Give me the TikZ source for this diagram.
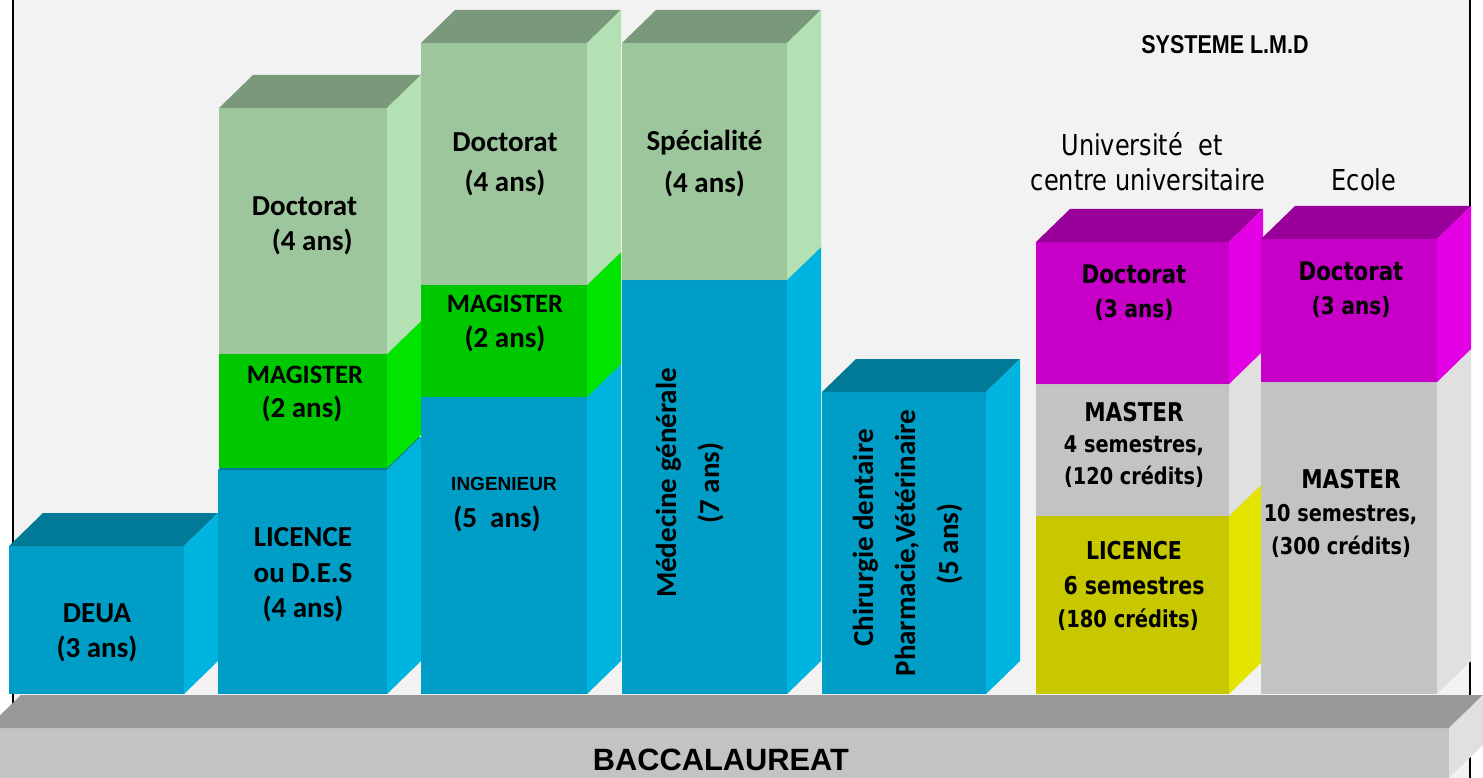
\documentclass[tikz,border=0pt]{standalone}
\usepackage{fontspec}
\usepackage{graphicx}
\setmainfont{Carlito}
\newfontfamily\vfont{DejaVu Sans}
\newfontfamily\afont{Liberation Sans}
\definecolor{bgc}{RGB}{242,242,242}
\definecolor{blueF}{RGB}{0,157,198}
\definecolor{blueS}{RGB}{0,180,224}
\definecolor{blueT}{RGB}{0,122,150}
\definecolor{grnF}{RGB}{0,200,0}
\definecolor{grnS}{RGB}{0,228,0}
\definecolor{grnT}{RGB}{0,150,0}
\definecolor{lgF}{RGB}{157,198,157}
\definecolor{lgS}{RGB}{180,225,180}
\definecolor{lgT}{RGB}{122,152,122}
\definecolor{magF}{RGB}{198,0,198}
\definecolor{magS}{RGB}{228,0,228}
\definecolor{magT}{RGB}{153,0,153}
\definecolor{gryF}{RGB}{195,195,195}
\definecolor{gryS}{RGB}{224,224,224}
\definecolor{gryT}{RGB}{153,153,153}
\definecolor{yelF}{RGB}{200,200,0}
\definecolor{yelS}{RGB}{228,228,0}
\definecolor{yelT}{RGB}{150,150,0}
\newcommand\cuboid[7]{%
  \fill[#5] (#1,#2) rectangle (#3,#4);
  \fill[#6] (#1,#2) -- (#1+34,#2-33) -- (#3+34,#2-33) -- (#3,#2) -- cycle;
  \fill[#7] (#3,#2) -- (#3+34,#2-33) -- (#3+34,#4-33) -- (#3,#4) -- cycle;
}
\newcommand\vst[1]{\scalebox{1}[1.2]{#1}}
\tikzset{
  cal/.style={font=\bfseries\fontsize{29}{35}\selectfont, inner sep=0pt, anchor=base},
  calm/.style={font=\bfseries\fontsize{26.5}{32}\selectfont, inner sep=0pt, anchor=base},
  calsm/.style={font=\afont\bfseries\fontsize{19}{23}\selectfont, inner sep=0pt, anchor=base},
  vb/.style={font=\vfont\bfseries\fontsize{#1}{#1}\selectfont, inner sep=0pt, anchor=base},
  vr/.style={font=\vfont\fontsize{#1}{#1}\selectfont, inner sep=0pt, anchor=base},
  ab/.style={font=\afont\bfseries\fontsize{#1}{#1}\selectfont, inner sep=0pt, anchor=base},
}
\begin{document}
\begin{tikzpicture}[x=1pt,y=-1pt]
\useasboundingbox (0,0) rectangle (1483,778);
\fill[white] (0,0) rectangle (1483,778);
\fill[bgc] (14,0) rectangle (1469,778);
\fill[black] (12,0) rectangle (14,705);
\fill[black] (1469.3,0) rectangle (1471.3,778);
% column 1
\cuboid{9}{546}{184}{694}{blueF}{blueT}{blueS}
% column 2
\cuboid{218}{470}{387}{694}{blueF}{blueT}{blueS}
\cuboid{219}{354}{387}{468}{grnF}{grnT}{grnS}
\cuboid{219}{108}{387}{354}{lgF}{lgT}{lgS}
% column 3
\cuboid{421}{397}{587}{694}{blueF}{blueT}{blueS}
\cuboid{421}{285}{587}{397}{grnF}{grnT}{grnS}
\cuboid{421}{43}{587}{285}{lgF}{lgT}{lgS}
% column 4
\cuboid{622}{280}{787}{694}{blueF}{blueT}{blueS}
\cuboid{622}{43}{787}{280}{lgF}{lgT}{lgS}
% column 5
\cuboid{822}{392}{986}{694}{blueF}{blueT}{blueS}
% column 6
\cuboid{1036}{516}{1229}{694}{yelF}{yelT}{yelS}
\cuboid{1036}{384}{1229}{516}{gryF}{gryT}{gryS}
\cuboid{1036}{242}{1229}{384}{magF}{magT}{magS}
% column 7
\cuboid{1261}{382}{1437}{694}{gryF}{gryT}{gryS}
\cuboid{1261}{239}{1437}{382}{magF}{magT}{magS}
% base slab
\fill[gryF] (-20,728) rectangle (1449,790);
\fill[gryT] (-13,728) -- (21,695) -- (1483,695) -- (1449,728) -- cycle;
\fill[gryS] (1449,728) -- (1483,695) -- (1483,745) -- (1449,778) -- cycle;
% texts
\node[cal] (deua1) at (97,622) {DEUA};
\node[cal] (deua2) at (97,657) {(3 ans)};
\node[cal] (lic1) at (303,546) {LICENCE};
\node[cal] (lic2) at (303,582) {ou D.E.S};
\node[cal] (lic3) at (303,617) {(4 ans)};
\node[calm] (mag1) at (305,383) {MAGISTER};
\node[cal] (mag2) at (302,417) {(2 ans)};
\node[cal] (doc1) at (304.5,215) {Doctorat};
\node[cal] (doc2) at (309,251) {\ (4 ans)};
\node[cal] (docb1) at (505,152) {Doctorat};
\node[cal] (docb2) at (505,192) {(4 ans)};
\node[calm] (magb1) at (505,312) {MAGISTER};
\node[cal] (magb2) at (505,347) {(2 ans)};
\node[calsm] (ing1) at (504,490) {INGENIEUR};
\node[cal] (ing2) at (497,527) {(5~~ans)};
\node[cal] (spe1) at (704.5,151) {Spécialité};
\node[cal] (spe2) at (704.5,193) {(4 ans)};
\node[cal,rotate=90] (med1) at (676,483) {Médecine générale};
\node[cal,rotate=90] (med2) at (719,483) {(7 ans)};
\node[cal,rotate=90] (chi1) at (873,538) {Chirurgie dentaire};
\node[cal,rotate=90] (chi2) at (915,543) {Pharmacie,Vétérinaire};
\node[cal,rotate=90] (chi3) at (958,544) {(5 ans)};
\node[ab=21.5] (lmd) at (1225,54) {\vst{SYSTEME L.M.D}};
\node[vr=24] (univ1) at (1142,156) {\vst{Université~~et}};
\node[vr=24] (univ2) at (1148,191) {\vst{centre universitaire}};
\node[vr=24] (ecole) at (1364,191) {\vst{Ecole}};
\node[vb=21.3] (udoc1) at (1134,283) {\vst{Doctorat}};
\node[vb=20] (udoc2) at (1134,317) {\vst{(3 ans)}};
\node[vb=21.5] (umas1) at (1134,421) {\vst{MASTER}};
\node[vb=19.3] (umas2) at (1134,452) {\vst{4 semestres,}};
\node[vb=19.3] (umas3) at (1134,484) {\vst{(120 crédits)}};
\node[vb=20.5] (ulic1) at (1134,559) {\vst{LICENCE}};
\node[vb=20.5] (ulic2) at (1134,594) {\vst{6 semestres}};
\node[vb=19.5] (ulic3) at (1128,627) {\vst{(180 crédits)}};
\node[vb=21.3] (edoc1) at (1351,280) {\vst{Doctorat}};
\node[vb=20] (edoc2) at (1351,314) {\vst{(3 ans)}};
\node[vb=21.5] (emas1) at (1351,488) {\vst{MASTER}};
\node[vb=19.3] (emas2) at (1340.5,521) {\vst{10 semestres,}};
\node[vb=19.3] (emas3) at (1341,554) {\vst{(300 crédits)}};
\node[ab=30.8] (bac) at (721,770) {BACCALAUREAT};
\end{tikzpicture}
\end{document}
